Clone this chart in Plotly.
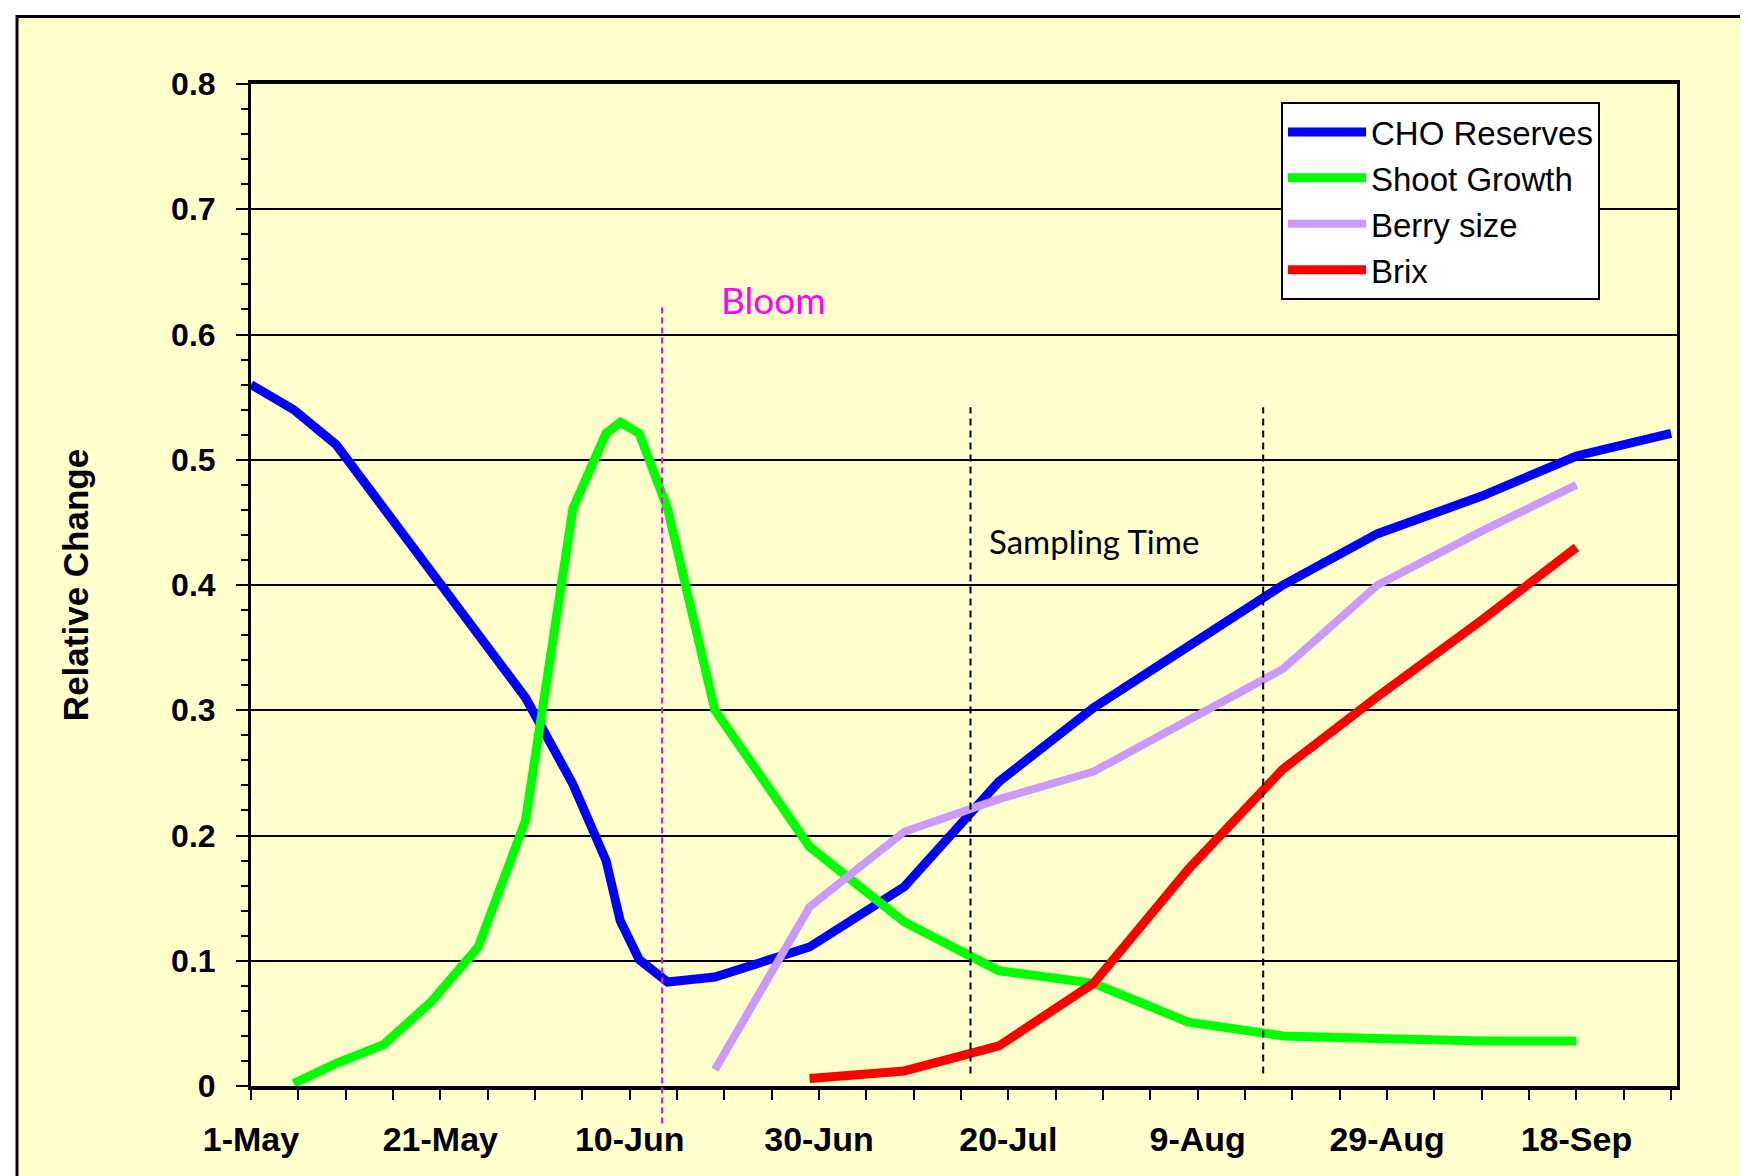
import plotly.graph_objects as go

# ---------------- data ----------------
cho_dates = ["2010-05-01", "2010-05-05 12:00", "2010-05-10", "2010-05-15", "2010-05-20",
             "2010-05-25", "2010-05-30", "2010-06-04", "2010-06-07 12:00", "2010-06-09",
             "2010-06-11", "2010-06-14", "2010-06-19", "2010-06-29", "2010-07-09",
             "2010-07-19", "2010-07-29", "2010-08-08", "2010-08-18", "2010-08-28",
             "2010-09-08", "2010-09-18", "2010-09-28"]
cho_values = [0.560, 0.540, 0.512, 0.462, 0.410, 0.360, 0.310, 0.241, 0.180, 0.132,
              0.101, 0.083, 0.087, 0.111, 0.159, 0.243, 0.302, 0.351, 0.400, 0.441,
              0.471, 0.503, 0.521]

shoot_dates = ["2010-05-05 12:00", "2010-05-10", "2010-05-15", "2010-05-20", "2010-05-25",
               "2010-05-30", "2010-06-04", "2010-06-07 12:00", "2010-06-09", "2010-06-11",
               "2010-06-14", "2010-06-19", "2010-06-29", "2010-07-09", "2010-07-19",
               "2010-07-29", "2010-08-08", "2010-08-18", "2010-08-28", "2010-09-08",
               "2010-09-18"]
shoot_values = [0.002, 0.018, 0.033, 0.067, 0.111, 0.212, 0.461, 0.521, 0.530, 0.521,
                0.461, 0.300, 0.191, 0.131, 0.092, 0.082, 0.051, 0.040, 0.038, 0.036,
                0.036]

berry_dates = ["2010-06-19", "2010-06-29", "2010-07-09", "2010-07-19", "2010-07-29",
               "2010-08-08", "2010-08-18", "2010-08-28", "2010-09-08", "2010-09-18"]
berry_values = [0.013, 0.143, 0.203, 0.229, 0.251, 0.292, 0.333, 0.400, 0.443, 0.480]

brix_dates = ["2010-06-29", "2010-07-09", "2010-07-19", "2010-07-29", "2010-08-08",
              "2010-08-18", "2010-08-28", "2010-09-08", "2010-09-18"]
brix_values = [0.006, 0.012, 0.032, 0.082, 0.173, 0.253, 0.311, 0.372, 0.430]

tick_dates = ["2010-05-01", "2010-05-21", "2010-06-10", "2010-06-30", "2010-07-20",
              "2010-08-09", "2010-08-29", "2010-09-18"]
tick_labels = ["1-May", "21-May", "10-Jun", "30-Jun", "20-Jul", "9-Aug", "29-Aug", "18-Sep"]

series_names = ["CHO Reserves", "Shoot Growth", "Berry size", "Brix"]
series_colors = ["#0000FF", "#00FF00", "#CC99FF", "#FF0000"]

bloom_date = "2010-06-13 10:00"
sampling_dates = ["2010-07-16", "2010-08-15 22:00"]

# ---------------- styling ----------------
ARIAL = "Arial, 'Liberation Sans', sans-serif"
CALIBRI = "Lato, 'Open Sans', sans-serif"
BG = "#FFFFCC"

W, H = 1748, 1176
ML, MR, MT, MB = 243, 79, 76, 98
PW, PH = W - ML - MR, H - MT - MB


def px_x(p):
    return (p - ML) / PW


def px_y(p):
    return 1 - (p - MT) / PH


fig = go.Figure()

series = [
    (cho_dates, cho_values, 9),
    (shoot_dates, shoot_values, 9),
    (berry_dates, berry_values, 8),
    (brix_dates, brix_values, 9),
]
for (xs, ys, lw), name, col in zip(series, series_names, series_colors):
    fig.add_trace(go.Scatter(x=xs, y=ys, mode="lines", name=name, legendgroup=name,
                             line=dict(color=col, width=lw)))

shapes = [
    # outer yellow frame
    dict(type="rect", xref="paper", yref="paper", x0=px_x(9), x1=px_x(1742),
         y0=px_y(1210), y1=px_y(8.5), fillcolor=BG, line=dict(color="black", width=3),
         layer="below"),
    # bloom line
    dict(type="line", xref="x", yref="paper", x0=bloom_date, x1=bloom_date,
         y0=-0.030 / 0.8, y1=0.622 / 0.8, line=dict(color="#FF00FF", width=2, dash="6px,4px")),
]
for d in sampling_dates:
    shapes.append(dict(type="line", xref="x", yref="y", x0=d, x1=d, y0=0.01, y1=0.542,
                       line=dict(color="black", width=2, dash="7px,5px")))

annotations = [
    dict(x="2010-06-25 05:00", y=0.628, xref="x", yref="y", text="Bloom", showarrow=False,
         font=dict(family=CALIBRI, size=37, color="#FF00FF")),
    dict(x="2010-07-29", y=0.435, xref="x", yref="y", text="Sampling Time", showarrow=False,
         font=dict(family=CALIBRI, size=33, color="black")),
]

fig.update_layout(
    width=W, height=H,
    margin=dict(l=ML, r=MR, t=MT, b=MB, autoexpand=False),
    paper_bgcolor="white",
    plot_bgcolor="rgba(0,0,0,0)",
    shapes=shapes,
    annotations=annotations,
    showlegend=True,
    legend=dict(x=px_x(1273), y=px_y(94), xanchor="left", yanchor="top",
                bgcolor="white", bordercolor="black", borderwidth=2,
                font=dict(family=ARIAL, size=33, color="black"),
                itemwidth=78, tracegroupgap=14, traceorder="normal"),
    xaxis=dict(
        type="date",
        range=["2010-05-01", "2010-09-28 15:00"],
        tickmode="array", tickvals=tick_dates, ticktext=tick_labels,
        ticks="outside", ticklen=10, tickwidth=2, tickcolor="black",
        minor=dict(dtick=5 * 86400000, tick0="2010-05-01", ticks="outside",
                   ticklen=10, tickwidth=2, tickcolor="black", showgrid=False),
        tickfont=dict(family=ARIAL, size=34, color="black", weight="bold"),
        ticklabelstandoff=10,
        showline=True, linecolor="black", linewidth=4, mirror=True,
        showgrid=False, zeroline=False,
    ),
    yaxis=dict(
        range=[0, 0.8], dtick=0.1, tick0=0,
        ticks="outside", ticklen=12, tickwidth=2, tickcolor="black",
        minor=dict(dtick=0.02, ticks="outside", ticklen=7, tickwidth=2,
                   tickcolor="black", showgrid=False),
        tickfont=dict(family=ARIAL, size=32, color="black", weight="bold"),
        ticklabelstandoff=14,
        showline=True, linecolor="black", linewidth=3, mirror=True,
        showgrid=True, gridcolor="black", gridwidth=2, zeroline=False,
        title=dict(text="Relative Change", standoff=72,
                   font=dict(family=ARIAL, size=35, color="black", weight="bold")),
    ),
)

fig.write_html("out.html")
